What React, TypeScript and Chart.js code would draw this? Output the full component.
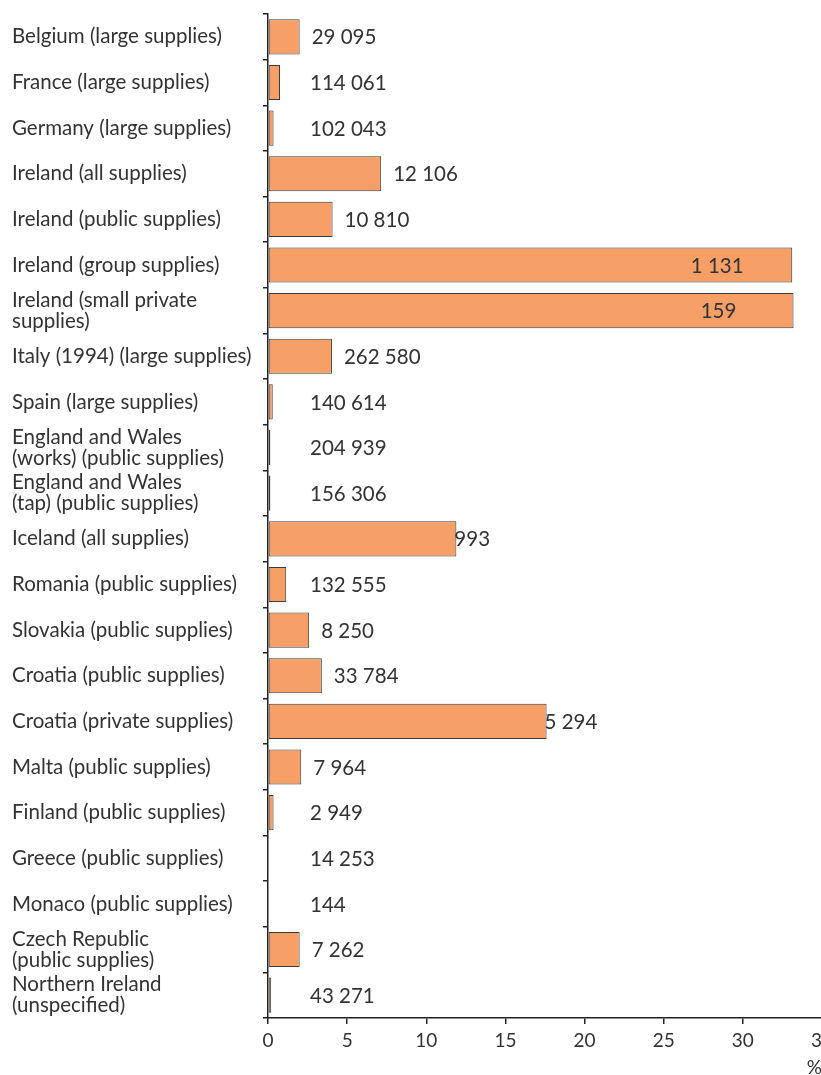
import React, { useEffect, useRef } from "react";
import { Chart, registerables } from "chart.js";

Chart.register(...registerables);

const categories: (string | string[])[] = [
  "Belgium (large supplies)",
  "France (large supplies)",
  "Germany (large supplies)",
  "Ireland (all supplies)",
  "Ireland (public supplies)",
  "Ireland (group supplies)",
  ["Ireland (small private", "supplies)"],
  "Italy (1994) (large supplies)",
  "Spain (large supplies)",
  ["England and Wales", "(works) (public supplies)"],
  ["England and Wales", "(tap) (public supplies)"],
  "Iceland (all supplies)",
  "Romania (public supplies)",
  "Slovakia (public supplies)",
  "Croatia (public supplies)",
  "Croatia (private supplies)",
  "Malta (public supplies)",
  "Finland (public supplies)",
  "Greece (public supplies)",
  "Monaco (public supplies)",
  ["Czech Republic", "(public supplies)"],
  ["Northern Ireland", "(unspecified)"],
];

const percentValues: number[] = [
  2.0, 0.76, 0.35, 7.15, 4.08, 33.12, 33.2, 4.04, 0.3, 0.15, 0.15, 11.9, 1.15,
  2.6, 3.4, 17.6, 2.1, 0.35, 0.04, 0.04, 2.0, 0.2,
];

const sampleCounts: string[] = [
  "29 095", "114 061", "102 043", "12 106", "10 810", "1 131", "159",
  "262 580", "140 614", "204 939", "156 306", "993", "132 555", "8 250",
  "33 784", "5 294", "7 964", "2 949", "14 253", "144", "7 262", "43 271",
];

const xTicks: number[] = [0, 5, 10, 15, 20, 25, 30, 35];

const FONT = "Lato, 'Open Sans', sans-serif";
const TEXT = "#333333";

const countLabelPlugin = {
  id: "countLabels",
  afterDatasetsDraw(chart: any) {
    const { ctx } = chart;
    const meta = chart.getDatasetMeta(0);
    const xScale = chart.scales.x;
    const zeroX = xScale.getPixelForValue(0);
    ctx.save();
    ctx.font = `20.5px ${FONT}`;
    ctx.fillStyle = TEXT;
    ctx.textBaseline = "middle";
    meta.data.forEach((bar: any, i: number) => {
      const v = percentValues[i];
      const endX = bar.x;
      const y = bar.y + 1;
      const label = sampleCounts[i];
      if (v > 30) {
        ctx.textAlign = "center";
        ctx.fillText(label, endX - 75, y);
      } else if (v > 10) {
        ctx.textAlign = "left";
        ctx.fillText(label, endX - 2, y);
      } else {
        ctx.textAlign = "left";
        ctx.fillText(label, Math.max(endX + 12, zeroX + 42), y);
      }
    });
    ctx.restore();
  },
};

export default function App() {
  const canvasRef = useRef<HTMLCanvasElement | null>(null);

  useEffect(() => {
    if (!canvasRef.current) return;
    const chart = new Chart(canvasRef.current, {
      type: "bar",
      data: {
        labels: categories,
        datasets: [
          {
            data: percentValues,
            backgroundColor: "#F6A068",
            borderColor: "#3a3a3a",
            borderWidth: 1,
            borderSkipped: false,
            barPercentage: 0.77,
            categoryPercentage: 1,
          },
        ],
      },
      options: {
        indexAxis: "y",
        animation: false,
        responsive: false,
        maintainAspectRatio: false,
        layout: { padding: { left: 12, top: 14, right: 18, bottom: 0 } },
        plugins: {
          legend: { display: false },
          tooltip: { enabled: false },
        },
        scales: {
          y: {
            grid: {
              offset: true,
              drawOnChartArea: false,
              tickLength: 5,
              color: "#222",
              lineWidth: 1.5,
            },
            border: { display: true, color: "#222", width: 1.5 },
            ticks: {
              crossAlign: "far",
              color: TEXT,
              font: { family: FONT, size: 20.5, lineHeight: 1.03 },
              autoSkip: false,
            },
            afterFit(scale: any) {
              scale.width = 256;
              scale.paddingTop = 0;
              scale.paddingBottom = 0;
            },
          },
          x: {
            min: 0,
            max: 35,
            afterBuildTicks(scale: any) {
              scale.ticks = xTicks.map((v) => ({ value: v }));
            },
            grid: {
              drawOnChartArea: false,
              tickLength: 6,
              color: "#222",
              lineWidth: 1.5,
            },
            border: { display: true, color: "#222", width: 1.5 },
            ticks: {
              color: TEXT,
              padding: 5,
              maxRotation: 0,
              font: { family: FONT, size: 19 },
            },
            title: {
              display: true,
              text: "%",
              align: "end",
              color: TEXT,
              padding: { top: 0, bottom: -4 },
              font: { family: FONT, size: 19 },
            },
            afterFit(scale: any) {
              scale.height = 57;
            },
          },
        },
      },
      plugins: [countLabelPlugin],
    });
    return () => chart.destroy();
  }, []);

  return (
    <div
      style={{
        position: "absolute",
        left: 0,
        top: 0,
        width: 821,
        height: 1075,
        overflow: "hidden",
        background: "#fff",
      }}
    >
      <canvas
        ref={canvasRef}
        width={840}
        height={1075}
        style={{ display: "block", width: 840, height: 1075 }}
      />
    </div>
  );
}
